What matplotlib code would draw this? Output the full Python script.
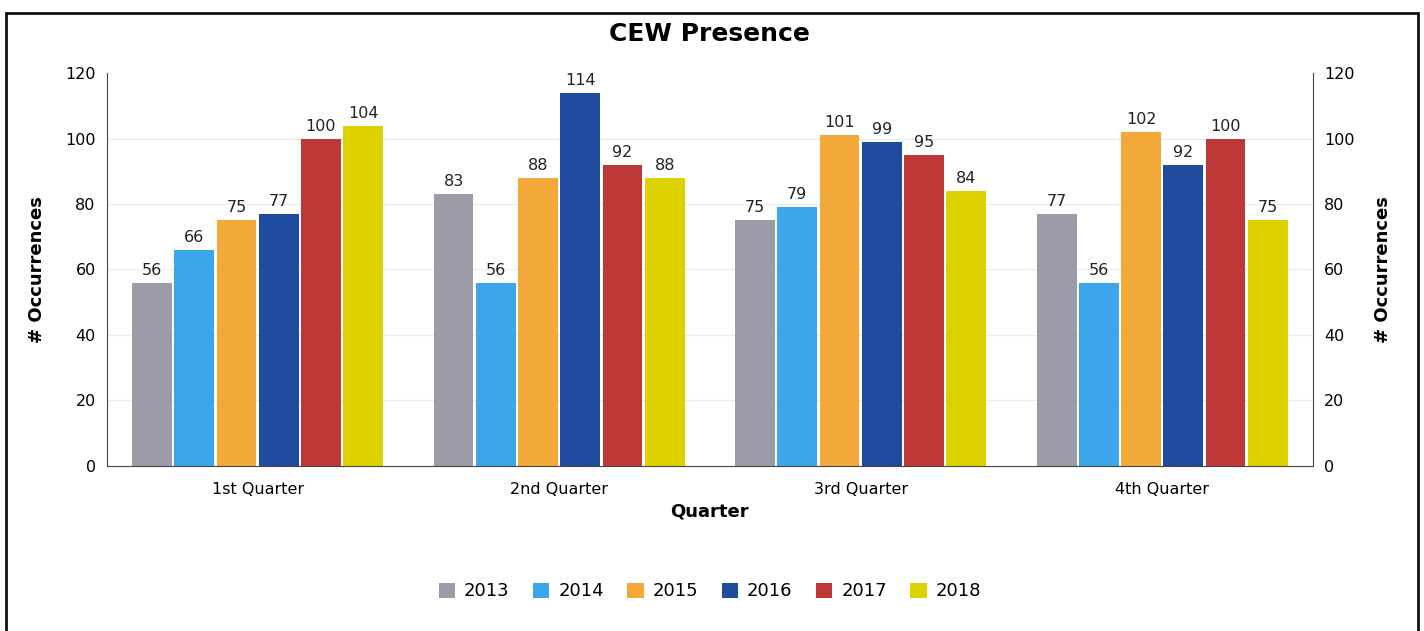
import matplotlib.pyplot as plt
import numpy as np
from matplotlib.patches import Rectangle

quarters = ["1st Quarter", "2nd Quarter", "3rd Quarter", "4th Quarter"]
years = ["2013", "2014", "2015", "2016", "2017", "2018"]
v2013 = [56, 83, 75, 77]
v2014 = [66, 56, 79, 56]
v2015 = [75, 88, 101, 102]
v2016 = [77, 114, 99, 92]
v2017 = [100, 92, 95, 100]
v2018 = [104, 88, 84, 75]
yticks = [0, 20, 40, 60, 80, 100, 120]

series = [v2013, v2014, v2015, v2016, v2017, v2018]
colors = ["#9c9ca8", "#3ba7ea", "#f2a93a", "#1f4c9e", "#bf3838", "#ddd200"]

fig = plt.figure(figsize=(14.24, 6.31), dpi=100)
ax = fig.add_axes([0.075, 0.262, 0.847, 0.622])

x = np.arange(len(quarters))
step = 0.14
width = 0.132
for i, (vals, c, yr) in enumerate(zip(series, colors, years)):
    pos = x + (i - 2.5) * step
    bars = ax.bar(pos, vals, width, color=c, label=yr, zorder=2)
    for b, v in zip(bars, vals):
        ax.text(b.get_x() + b.get_width() / 2, v + 1.5, str(v),
                ha="center", va="bottom", fontsize=11.5, color="#222222")

ax.set_xlim(-0.5, 3.5)
ax.set_ylim(0, 120)
ax.set_yticks(yticks)
ax.set_xticks(x)
ax.set_xticklabels(quarters, fontsize=11.5)
ax.tick_params(axis="both", length=0, labelsize=11.5, pad=8)
ax.tick_params(axis="x", pad=12)
for yv in yticks[1:-1]:
    ax.axhline(yv, color="#ececec", linewidth=0.8, zorder=0)
ax.spines["top"].set_visible(False)
ax.spines["right"].set_visible(False)
for s in ["left", "bottom"]:
    ax.spines[s].set_color("#444444")
ax.set_ylabel("# Occurrences", fontsize=13, fontweight="bold", labelpad=14)
ax.set_xlabel("Quarter", fontsize=13, fontweight="bold", labelpad=4)
ax.set_title("CEW Presence", fontsize=18, fontweight="bold", pad=23)

ax2 = ax.twinx()
ax2.set_ylim(0, 120)
ax2.set_yticks(yticks)
ax2.tick_params(axis="y", length=0, labelsize=11.5, pad=8)
for s in ["top", "left", "bottom"]:
    ax2.spines[s].set_visible(False)
ax2.spines["right"].set_color("#444444")
ax2.set_ylabel("# Occurrences", fontsize=13, fontweight="bold", labelpad=14)

ax.legend(loc="center", bbox_to_anchor=(0.5, -0.32), ncol=6, frameon=False,
          fontsize=13, handlelength=0.9, handleheight=0.9, columnspacing=1.3,
          handletextpad=0.5)

fig.patches.append(Rectangle((0.004, -0.01), 0.992, 0.99, transform=fig.transFigure,
                             fill=False, edgecolor="#111111", linewidth=2))

fig.savefig("out.png", dpi=100)
